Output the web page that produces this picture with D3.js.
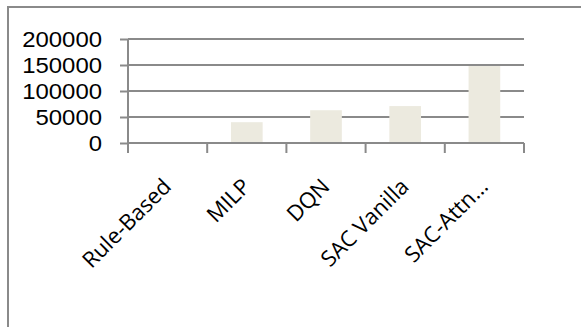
<!DOCTYPE html>
<html>
<head>
<meta charset="utf-8">
<script src="https://cdn.jsdelivr.net/npm/d3@7"></script>
<style>
  html, body { margin: 0; padding: 0; background: #fff; }
  svg { display: block; }
</style>
</head>
<body>
<svg id="chart" width="581" height="327"></svg>
<script>
// Method names along the category axis
const categories = ["Rule-Based", "MILP", "DQN", "SAC Vanilla", "SAC-Attn…"];
// One value per method
const values = [0, 40000, 63000, 71000, 148000];
// Value-axis ticks
const yTicks = [0, 50000, 100000, 150000, 200000];

const svg = d3.select("#chart");
const W = 581, H = 327;
const plot = { left: 128, right: 524, top: 39, bottom: 143 };
const gridColor = "#8a8a8a";

// Outer frame of the chart area (runs past the right and bottom edges)
svg.append("path")
  .attr("d", `M8,${H + 5} L8,7 L${W + 5},7`)
  .attr("fill", "none")
  .attr("stroke", gridColor)
  .attr("stroke-width", 2);

const x = d3.scaleBand()
  .domain(categories)
  .range([plot.left, plot.right])
  .paddingInner(0)
  .paddingOuter(0);

const y = d3.scaleLinear()
  .domain([0, 200000])
  .range([plot.bottom, plot.top]);

// Horizontal gridlines
svg.append("g")
  .selectAll("line")
  .data(yTicks.filter(d => d !== 0))
  .join("line")
  .attr("x1", plot.left)
  .attr("x2", plot.right)
  .attr("y1", d => y(d))
  .attr("y2", d => y(d))
  .attr("stroke", gridColor)
  .attr("stroke-width", 2);

// Bars
const barW = x.bandwidth() * 0.4;
svg.append("g")
  .selectAll("rect")
  .data(categories.map((c, i) => ({ c, v: values[i] })))
  .join("rect")
  .attr("x", d => x(d.c) + (x.bandwidth() - barW) / 2)
  .attr("width", barW)
  .attr("y", d => y(d.v))
  .attr("height", d => y(0) - y(d.v))
  .attr("fill", "#eceadf");

// Value axis
const fmt = d3.format("d");
const yAxis = d3.axisLeft(y)
  .tickValues(yTicks)
  .tickSize(8)
  .tickPadding(18)
  .tickFormat(fmt);
const gy = svg.append("g")
  .attr("transform", `translate(${plot.left},0)`)
  .call(yAxis);
gy.select(".domain").attr("stroke", gridColor).attr("stroke-width", 2)
  .attr("d", `M0,${plot.top}V${plot.bottom}`);
gy.selectAll(".tick line").attr("stroke", gridColor).attr("stroke-width", 2);
// Slightly wider digits, as in a humanist face
gy.selectAll(".tick text")
  .style("font-family", "'Liberation Sans', Arial, sans-serif")
  .style("font-size", "22px")
  .attr("fill", "#000")
  .attr("dy", "0.36em")
  .attr("lengthAdjust", "spacingAndGlyphs")
  .attr("textLength", d => fmt(d).length * 13.3);

// Category axis: baseline with tick marks at band boundaries
const bounds = categories.map(c => x(c)).concat([plot.right]);
svg.append("line")
  .attr("x1", plot.left).attr("x2", plot.right)
  .attr("y1", y(0)).attr("y2", y(0))
  .attr("stroke", gridColor).attr("stroke-width", 2);
svg.append("g")
  .selectAll("line")
  .data(bounds)
  .join("line")
  .attr("x1", d => d).attr("x2", d => d)
  .attr("y1", y(0)).attr("y2", y(0) + 10)
  .attr("stroke", gridColor).attr("stroke-width", 2);

// Rotated category labels
svg.append("g")
  .selectAll("text")
  .data(categories)
  .join("text")
  .attr("transform", d => `translate(${x(d) + x.bandwidth() / 2 + 5},${y(0) + 45}) rotate(-45)`)
  .attr("text-anchor", "end")
  .style("font-family", "'Open Sans', sans-serif")
  .style("font-size", "22px")
  .attr("fill", "#000")
  .text(d => d);
</script>
</body>
</html>
